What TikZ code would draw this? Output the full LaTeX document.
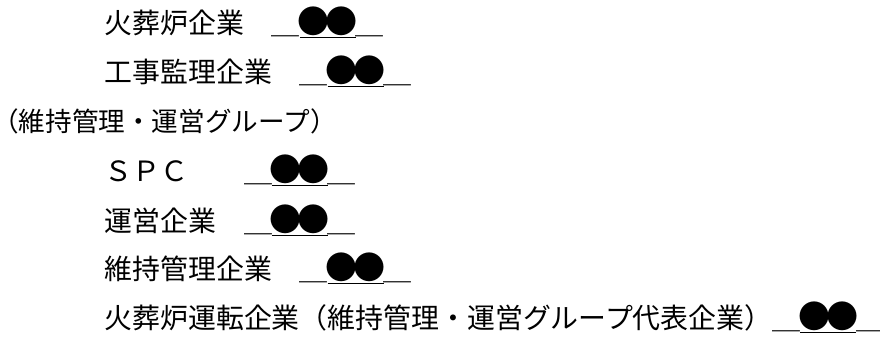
\documentclass[tikz,border=0pt]{standalone}
\usepackage{fontspec}
\newfontfamily\jpfont{Noto Sans CJK JP}
\newcommand{\kuro}{\makebox[1em]{\scalebox{1.15}{●}}}
\newcommand{\atai}{＿\underline{\kuro\kuro}＿}
\begin{document}
\begin{tikzpicture}[x=1pt,y=-1pt,
  entry/.style={anchor=base west,inner sep=0pt,outer sep=0pt,
    font=\jpfont\fontsize{27.9}{30}\selectfont},
  group/.style={entry,font=\jpfont\fontsize{26.6}{30}\selectfont}]
\useasboundingbox (0,0) rectangle (880,338);
\node[entry] (l1) at (104.5,33.6) {火葬炉企業　\atai};
\node[entry] (l2) at (104.5,82.6) {工事監理企業　\atai};
\node[group] (l3) at (0,131.6) {\kern-7.6pt（維持管理・運営グループ）};
\node[entry] (l4) at (104.5,181.6) {ＳＰＣ　　\atai};
\node[entry] (l5) at (104.5,231.6) {運営企業　\atai};
\node[entry] (l6) at (104.5,279.6) {維持管理企業　\atai};
\node[entry] (l7) at (104.5,328.6) {火葬炉運転企業（維持管理・運営グループ代表企業）\atai};
\end{tikzpicture}
\end{document}
